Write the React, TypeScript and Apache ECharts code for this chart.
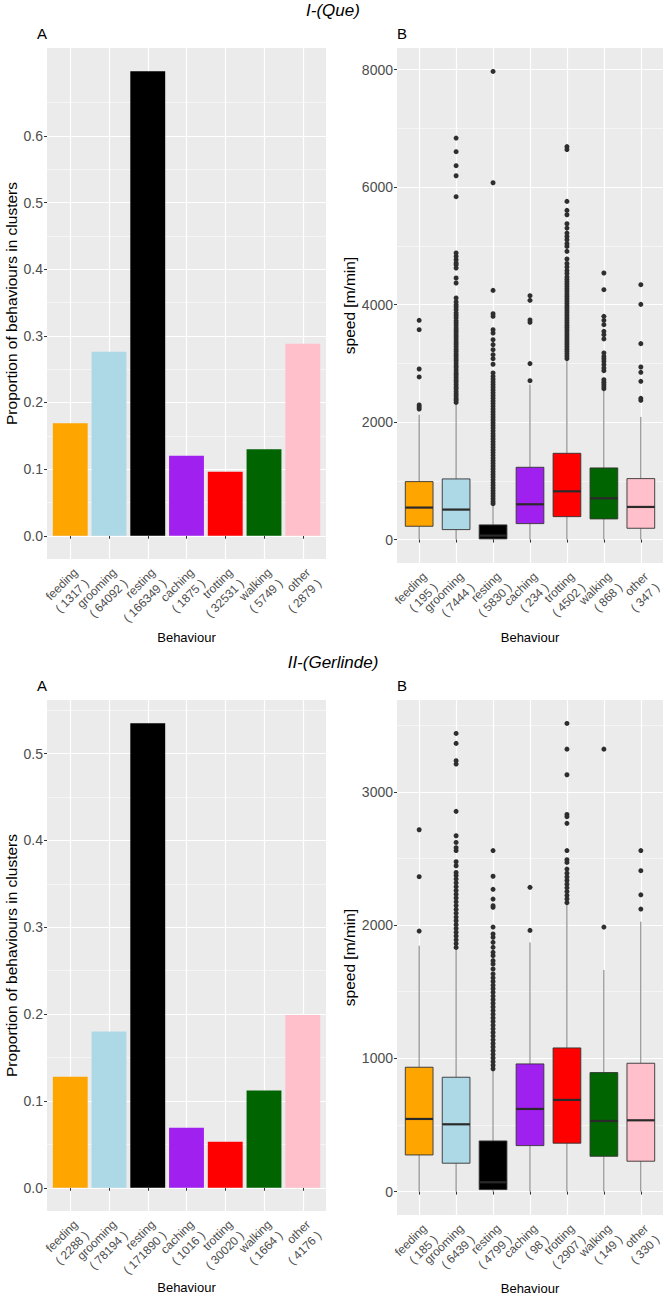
import React, { useEffect, useRef } from "react";
import * as echarts from "echarts";

const FONT = "'Liberation Sans', Arial, Helvetica, sans-serif";

const behaviours = ["feeding", "grooming", "resting", "caching", "trotting", "walking", "other"];
const behaviourColors = ["#FFA500", "#ADD8E6", "#000000", "#A020F0", "#FF0000", "#006400", "#FFC0CB"];

// ---------- I-(Que) ----------
const queClusterCounts = [1317, 64092, 166349, 1875, 32531, 5749, 2879];
const queProportions = [0.169, 0.276, 0.697, 0.12, 0.096, 0.13, 0.288];
const queSpeedCounts = [195, 7444, 5830, 234, 4502, 868, 347];
// [lower whisker, Q1, median, Q3, upper whisker]
const queFeedingBox = [0, 227, 545, 987, 2127];
const queGroomingBox = [0, 170, 511, 1033, 2315];
const queRestingBox = [0, 12, 68, 250, 596];
const queCachingBox = [0, 272, 601, 1231, 2640];
const queTrottingBox = [0, 391, 822, 1469, 3064];
const queWalkingBox = [0, 352, 703, 1220, 2540];
const queOtherBox = [0, 193, 556, 1038, 2088];

const queFeedingOut = [2224, 2258, 2292, 2769, 2905, 3574, 3733];
const queGroomingOut = [2335, 2372, 2404, 2445, 2481, 2520, 2566, 2598, 2641, 2683, 2719, 2760, 2802, 2838, 2881, 2924, 2958, 3001, 3043, 3079, 3122, 3160, 3204, 3241, 3283, 3326, 3362, 3405, 3446, 3484, 3527, 3565, 3603, 3648, 3686, 3724, 3773, 3815, 3858, 3915, 3958, 4000, 4048, 4113, 4369, 4454, 4624, 4680, 4709, 4766, 4822, 4879, 5838, 6195, 6366, 6604, 6836];
const queRestingOut = [612, 648, 695, 741, 786, 832, 879, 927, 971, 1018, 1064, 1109, 1157, 1203, 1248, 1296, 1342, 1387, 1434, 1481, 1527, 1573, 1620, 1666, 1712, 1759, 1805, 1851, 1898, 1944, 1990, 2037, 2083, 2130, 2176, 2222, 2269, 2315, 2361, 2408, 2454, 2500, 2547, 2593, 2640, 2686, 2732, 2779, 2837, 2985, 3080, 3148, 3233, 3319, 3404, 3517, 3574, 3801, 3846, 4243, 6076, 7971];
const queCachingOut = [2706, 2996, 3699, 3740, 4074, 4153];
const queTrottingOut = [3082, 3121, 3163, 3204, 3242, 3285, 3327, 3366, 3405, 3447, 3489, 3528, 3570, 3611, 3650, 3692, 3733, 3773, 3815, 3856, 3897, 3938, 3978, 4020, 4061, 4102, 4143, 4184, 4226, 4266, 4308, 4349, 4390, 4431, 4472, 4530, 4580, 4641, 4700, 4777, 4907, 4992, 5037, 5105, 5160, 5218, 5303, 5378, 5530, 5605, 5758, 6640, 6690];
const queWalkingOut = [2570, 2605, 2640, 2680, 2723, 2876, 2922, 2979, 3035, 3080, 3120, 3178, 3416, 3489, 3546, 3659, 3733, 3801, 4255, 4539];
const queOtherOut = [2371, 2405, 2695, 2848, 2939, 3336, 4005, 4340];

// ---------- II-(Gerlinde) ----------
const gerClusterCounts = [2288, 78194, 171890, 1016, 30020, 1664, 4176];
const gerProportions = [0.128, 0.18, 0.535, 0.069, 0.053, 0.112, 0.199];
const gerSpeedCounts = [185, 6439, 4799, 98, 2907, 149, 330];
const gerFeedingBox = [0, 275, 545, 933, 1845];
const gerGroomingBox = [0, 213, 505, 858, 1820];
const gerRestingBox = [0, 15, 70, 380, 907];
const gerCachingBox = [0, 345, 620, 958, 1870];
const gerTrottingBox = [0, 363, 688, 1078, 2150];
const gerWalkingBox = [0, 265, 530, 893, 1663];
const gerOtherBox = [0, 228, 535, 963, 2025];

const gerFeedingOut = [1955, 2363, 2715];
const gerGroomingOut = [1832, 1861, 1889, 1918, 1946, 1975, 2003, 2032, 2060, 2089, 2117, 2146, 2174, 2203, 2231, 2260, 2288, 2317, 2345, 2372, 2395, 2445, 2475, 2559, 2580, 2620, 2670, 2853, 3208, 3233, 3363, 3438];
const gerRestingOut = [921, 948, 975, 1003, 1030, 1057, 1085, 1112, 1139, 1167, 1194, 1221, 1249, 1276, 1303, 1331, 1358, 1385, 1413, 1440, 1467, 1495, 1522, 1549, 1577, 1604, 1633, 1670, 1708, 1733, 1770, 1795, 1833, 1870, 1908, 1933, 1985, 2133, 2145, 2195, 2268, 2366, 2559];
const gerCachingOut = [1960, 2283];
const gerTrottingOut = [2168, 2196, 2223, 2251, 2279, 2306, 2334, 2361, 2389, 2420, 2470, 2490, 2559, 2763, 2813, 2830, 3128, 3320, 3513];
const gerWalkingOut = [1985, 3320];
const gerOtherOut = [2120, 2227, 2408, 2559];

// ---------- tick values ----------
const queProportionTicks = [0, 0.1, 0.2, 0.3, 0.4, 0.5, 0.6];
const queProportionMinor = [0.05, 0.15, 0.25, 0.35, 0.45, 0.55, 0.65];
const gerProportionTicks = [0, 0.1, 0.2, 0.3, 0.4, 0.5];
const gerProportionMinor = [0.05, 0.15, 0.25, 0.35, 0.45, 0.55];
const queSpeedTicks = [0, 2000, 4000, 6000, 8000];
const queSpeedMinor = [1000, 3000, 5000, 7000];
const gerSpeedTicks = [0, 1000, 2000, 3000];
const gerSpeedMinor = [500, 1500, 2500, 3500];

const queBoxes = [queFeedingBox, queGroomingBox, queRestingBox, queCachingBox, queTrottingBox, queWalkingBox, queOtherBox];
const queOutliers = [queFeedingOut, queGroomingOut, queRestingOut, queCachingOut, queTrottingOut, queWalkingOut, queOtherOut];
const gerBoxes = [gerFeedingBox, gerGroomingBox, gerRestingBox, gerCachingBox, gerTrottingBox, gerWalkingBox, gerOtherBox];
const gerOutliers = [gerFeedingOut, gerGroomingOut, gerRestingOut, gerCachingOut, gerTrottingOut, gerWalkingOut, gerOtherOut];

const positions = behaviours.map((_, i) => i + 1);
const X_MIN = 0.4;
const X_MAX = 7.6;
// blank end labels keep ECharts' min/max label overlap check away from the real labels
const labelPositions = [X_MIN, ...positions, X_MAX];

function expand(lo: number, hi: number): [number, number] {
  const pad = (hi - lo) * 0.05;
  return [lo - pad, hi + pad];
}

function speedMax(boxes: number[][], outs: number[][]) {
  let m = 0;
  boxes.forEach((b) => b.forEach((v) => (m = Math.max(m, v))));
  outs.forEach((o) => o.forEach((v) => (m = Math.max(m, v))));
  return m;
}

function xAxisFor(gridIndex: number, counts: number[], nameGap: number) {
  return {
    type: "value",
    gridIndex,
    min: X_MIN,
    max: X_MAX,
    axisLine: { show: false },
    axisTick: { show: true, customValues: positions, length: 3, lineStyle: { color: "#333333", width: 1 } },
    axisLabel: {
      customValues: labelPositions,
      showMinLabel: true,
      showMaxLabel: true,
      hideOverlap: false,
      rotate: 45,
      align: "right",
      verticalAlign: "top",
      margin: 6,
      fontSize: 12,
      lineHeight: 15.5,
      color: "#4D4D4D",
      fontFamily: FONT,
      formatter: (v: number) => {
        const i = Math.round(v) - 1;
        if (Math.abs(v - Math.round(v)) > 0.01 || i < 0 || i >= behaviours.length) return " ";
        return behaviours[i] + "\n( " + counts[i] + " )";
      },
    },
    splitLine: { show: true, lineStyle: { color: "#FFFFFF", width: 1.2 } },
    name: "Behaviour",
    nameLocation: "middle",
    nameGap,
    nameTextStyle: { fontSize: 13, lineHeight: 14, color: "#000000", fontFamily: FONT },
  };
}

function yAxesFor(
  gridIndex: number,
  range: [number, number],
  ticks: number[],
  minor: number[],
  fmt: (v: number) => string,
  name: string,
  nameGap: number
) {
  return [
    {
      type: "value",
      gridIndex,
      min: range[0],
      max: range[1],
      position: "left",
      axisLine: { show: false },
      axisTick: { show: true, customValues: ticks, length: 3, lineStyle: { color: "#333333" } },
      axisLabel: {
        customValues: ticks,
        showMinLabel: true,
        showMaxLabel: true,
        formatter: fmt,
        fontSize: 14,
        color: "#4D4D4D",
        margin: 4,
        fontFamily: FONT,
      },
      splitLine: { show: true, lineStyle: { color: "#FFFFFF", width: 1.2 } },
      name,
      nameLocation: "middle",
      nameGap,
      nameTextStyle: { fontSize: 15.5, color: "#000000", fontFamily: FONT },
    },
    {
      type: "value",
      gridIndex,
      min: range[0],
      max: range[1],
      position: "left",
      axisLine: { show: false },
      axisTick: { show: false, customValues: minor },
      axisLabel: { show: false },
      splitLine: { show: true, lineStyle: { color: "#FFFFFF", width: 0.5 } },
    },
  ];
}

function barSeries(xi: number, yi: number, values: number[]) {
  return {
    type: "custom",
    xAxisIndex: xi,
    yAxisIndex: yi,
    silent: true,
    z: 3,
    data: values.map((v, i) => [i + 1, v]),
    encode: { x: 0, y: 1 },
    renderItem: (params: any, api: any) => {
      const x = api.value(0);
      const y = api.value(1);
      const p0 = api.coord([x - 0.45, y]);
      const p1 = api.coord([x + 0.45, 0]);
      return {
        type: "rect",
        shape: { x: p0[0], y: p0[1], width: p1[0] - p0[0], height: p1[1] - p0[1] },
        style: { fill: behaviourColors[params.dataIndex] },
      };
    },
  };
}

function boxSeries(xi: number, yi: number, boxes: number[][]) {
  return {
    type: "custom",
    xAxisIndex: xi,
    yAxisIndex: yi,
    silent: true,
    z: 3,
    data: boxes.map((b, i) => [i + 1, ...b]),
    encode: { x: 0, y: [1, 2, 3, 4, 5] },
    renderItem: (params: any, api: any) => {
      const x = api.value(0);
      const lo = api.value(1);
      const q1 = api.value(2);
      const med = api.value(3);
      const q3 = api.value(4);
      const hi = api.value(5);
      const hw = 0.375;
      const pHi = api.coord([x, hi]);
      const pQ3 = api.coord([x, q3]);
      const pQ1 = api.coord([x, q1]);
      const pLo = api.coord([x, lo]);
      const tl = api.coord([x - hw, q3]);
      const br = api.coord([x + hw, q1]);
      const mL = api.coord([x - hw, med]);
      const mR = api.coord([x + hw, med]);
      const wStyle = { stroke: "#7A7A7A", lineWidth: 1 };
      return {
        type: "group",
        children: [
          { type: "line", shape: { x1: pHi[0], y1: pHi[1], x2: pQ3[0], y2: pQ3[1] }, style: wStyle },
          { type: "line", shape: { x1: pLo[0], y1: pLo[1], x2: pQ1[0], y2: pQ1[1] }, style: wStyle },
          {
            type: "rect",
            shape: { x: tl[0], y: tl[1], width: br[0] - tl[0], height: br[1] - tl[1] },
            style: { fill: behaviourColors[params.dataIndex], stroke: "#333333", lineWidth: 0.9 },
          },
          {
            type: "line",
            shape: { x1: mL[0], y1: mL[1], x2: mR[0], y2: mR[1] },
            style: { stroke: "#2A2A2A", lineWidth: 2.2 },
          },
        ],
      };
    },
  };
}

function outlierSeries(xi: number, yi: number, outs: number[][]) {
  const data: number[][] = [];
  outs.forEach((arr, i) => arr.forEach((v) => data.push([i + 1, v])));
  return {
    type: "scatter",
    xAxisIndex: xi,
    yAxisIndex: yi,
    silent: true,
    z: 4,
    symbol: "circle",
    symbolSize: 5,
    itemStyle: { color: "#2E2E2E", opacity: 1 },
    data,
  };
}

function titleText(text: string, left: any, top: number, size: number, italic: boolean) {
  return {
    text,
    left,
    top,
    padding: 0,
    textStyle: {
      fontSize: size,
      fontStyle: italic ? "italic" : "normal",
      fontWeight: "normal",
      color: "#000000",
      fontFamily: FONT,
    },
  };
}

export default function App() {
  const ref = useRef<HTMLDivElement>(null);

  useEffect(() => {
    document.body.style.margin = "0";
    if (!ref.current) return;
    const chart = echarts.init(ref.current, undefined, { renderer: "svg" });

    const propFmt = (v: number) => v.toFixed(1);
    const speedFmt = (v: number) => String(Math.round(v));

    const queA = expand(0, Math.max(...queProportions));
    const gerA = expand(0, Math.max(...gerProportions));
    const queB = expand(0, speedMax(queBoxes, queOutliers));
    const gerB = expand(0, speedMax(gerBoxes, gerOutliers));

    const gridBase = { show: true, backgroundColor: "#EBEBEB", borderWidth: 0, containLabel: false, outerBoundsMode: "none" };

    const option: any = {
      animation: false,
      textStyle: { fontFamily: FONT },
      title: [
        titleText("I-(Que)", "center", 2, 17, true),
        titleText("A", 37, 26, 15, false),
        titleText("B", 397, 26, 15, false),
        titleText("II-(Gerlinde)", "center", 654, 17, true),
        titleText("A", 37, 678, 15, false),
        titleText("B", 397, 678, 15, false),
      ],
      grid: [
        { ...gridBase, left: 47, top: 48, width: 279, height: 511 },
        { ...gridBase, left: 397, top: 48, width: 266, height: 515 },
        { ...gridBase, left: 47, top: 700, width: 279, height: 511 },
        { ...gridBase, left: 397, top: 700, width: 266, height: 515 },
      ],
      xAxis: [
        xAxisFor(0, queClusterCounts, 71),
        xAxisFor(1, queSpeedCounts, 67),
        xAxisFor(2, gerClusterCounts, 56),
        xAxisFor(3, gerSpeedCounts, 52),
      ],
      yAxis: [
        ...yAxesFor(0, queA, queProportionTicks, queProportionMinor, propFmt, "Proportion of behaviours in clusters", 27),
        ...yAxesFor(1, queB, queSpeedTicks, queSpeedMinor, speedFmt, "speed [m/min]", 38),
        ...yAxesFor(2, gerA, gerProportionTicks, gerProportionMinor, propFmt, "Proportion of behaviours in clusters", 27),
        ...yAxesFor(3, gerB, gerSpeedTicks, gerSpeedMinor, speedFmt, "speed [m/min]", 38),
      ],
      series: [
        barSeries(0, 0, queProportions),
        boxSeries(1, 2, queBoxes),
        outlierSeries(1, 2, queOutliers),
        barSeries(2, 4, gerProportions),
        boxSeries(3, 6, gerBoxes),
        outlierSeries(3, 6, gerOutliers),
      ],
    };

    chart.setOption(option);
    return () => {
      chart.dispose();
    };
  }, []);

  return <div ref={ref} style={{ width: 666, height: 1294 }} />;
}
